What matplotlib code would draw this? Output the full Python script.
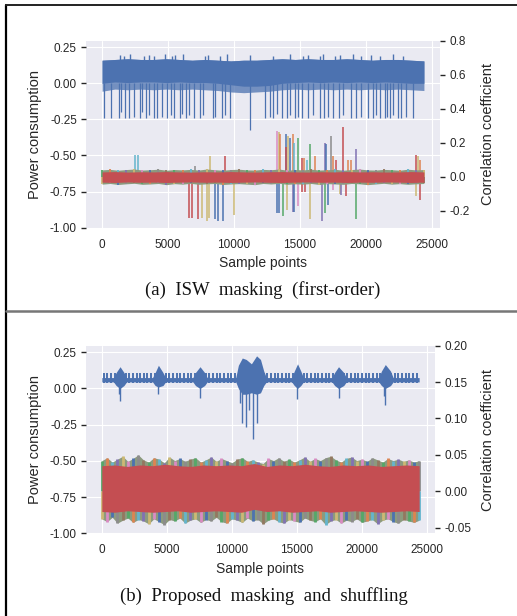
import numpy as np
import matplotlib
matplotlib.use('Agg')
import matplotlib.pyplot as plt
from matplotlib.lines import Line2D

plt.style.use('seaborn-v0_8-darkgrid')
plt.rcParams['font.family'] = ['Liberation Sans', 'DejaVu Sans']

deep = ['#4C72B0', '#DD8452', '#55A868', '#C44E52', '#8172B3',
        '#937860', '#DA8BC3', '#8C8C8C', '#CCB974', '#64B5CD']
fringe_cols = [deep[i] for i in (2, 1, 9, 4, 8, 6, 0, 7, 5)]

trace_len = 24400

# ---------- (a) ISW masking (first-order) ----------
# power trace band (left axis), read on an even grid over the trace
a_band_hi = [0.16, 0.165, 0.17, 0.165, 0.165, 0.17, 0.165, 0.16, 0.165, 0.16, 0.155, 0.16, 0.16,
             0.165, 0.17, 0.165, 0.17, 0.165, 0.165, 0.17, 0.165, 0.16, 0.165, 0.165, 0.16, 0.155]
a_band_lo = [0.0, 0.01, 0.005, 0.01, 0.01, 0.005, 0.01, 0.005, 0.005, 0.0, -0.01, -0.02, -0.02,
             -0.015, 0.0, 0.005, 0.01, 0.005, 0.01, 0.005, 0.01, 0.005, 0.01, 0.005, 0.0, 0.0]
a_band_fuzz = [-0.055, -0.04, -0.045, -0.04, -0.045, -0.04, -0.045, -0.04, -0.045, -0.05, -0.06, -0.065, -0.06,
               -0.055, -0.045, -0.04, -0.045, -0.04, -0.045, -0.04, -0.045, -0.04, -0.045, -0.04, -0.045, -0.05]
a_peak_x = [1384, 1634, 2087, 3146, 3524, 3902, 4787, 5293, 5543, 6171, 7812, 8061, 8946, 9452, 11214,
            12977, 14239, 15245, 15623, 16508, 16758, 17642, 18020, 19026, 19661, 20417, 21045, 22051, 22807]
a_peak_y = [0.195, 0.19, 0.2, 0.19, 0.195, 0.19, 0.2, 0.19, 0.195, 0.2, 0.19, 0.195, 0.19, 0.2, 0.195,
            0.19, 0.2, 0.19, 0.195, 0.19, 0.2, 0.19, 0.195, 0.2, 0.19, 0.195, 0.19, 0.2, 0.19]
a_spike_x = [176, 706, 1260, 1462, 1764, 2066, 2394, 2848, 3024, 3326,
             3528, 3906, 4158, 4536, 4914, 5216, 5418, 5872, 6048, 6376,
             6602, 6980, 7434, 7636, 8392, 8568, 9072, 9324, 9702, 11214,
             12348, 12726, 12978, 13230, 13608, 13986, 14238, 14616, 14868, 15120,
             15624, 16002, 16506, 16808, 17136, 17514, 17968, 18270, 18900, 19278,
             19656, 20160, 20538, 20790, 21042, 21420, 21596, 21848, 22050, 22428,
             22680, 23008, 23562]
a_spike_y = [-0.24, -0.24, -0.24, -0.20, -0.24, -0.24, -0.23, -0.24, -0.20, -0.24,
             -0.22, -0.24, -0.24, -0.23, -0.24, -0.22, -0.24, -0.24, -0.21, -0.24,
             -0.22, -0.24, -0.24, -0.22, -0.24, -0.23, -0.24, -0.22, -0.24, -0.32,
             -0.24, -0.23, -0.24, -0.21, -0.24, -0.24, -0.22, -0.24, -0.23, -0.24,
             -0.24, -0.22, -0.24, -0.24, -0.23, -0.24, -0.24, -0.22, -0.24, -0.24,
             -0.23, -0.24, -0.24, -0.22, -0.24, -0.24, -0.23, -0.24, -0.22, -0.24,
             -0.24, -0.23, -0.24]

# correlation traces (right axis)
a_corr_hi = [0.028, 0.03, 0.027, 0.029, 0.028, 0.03, 0.028, 0.027, 0.029, 0.028, 0.03, 0.028, 0.027,
             0.029, 0.03, 0.028, 0.027, 0.029, 0.028, 0.03, 0.028, 0.029, 0.027, 0.028, 0.03, 0.028]
a_corr_lo = [-0.032, -0.034, -0.031, -0.033, -0.032, -0.034, -0.032, -0.031, -0.033, -0.032, -0.034, -0.032, -0.031,
             -0.033, -0.034, -0.032, -0.031, -0.033, -0.032, -0.034, -0.032, -0.033, -0.031, -0.032, -0.034, -0.032]
a_fringe_hi = [0.040, 0.043, 0.038, 0.042, 0.045, 0.039, 0.041, 0.044, 0.038, 0.042,
               0.040, 0.043, 0.039, 0.045, 0.041, 0.038, 0.042, 0.044, 0.040, 0.039,
               0.043, 0.041, 0.045, 0.038, 0.042, 0.040, 0.044, 0.039, 0.041, 0.043,
               0.038, 0.042, 0.045, 0.040, 0.039, 0.043, 0.041, 0.038, 0.044, 0.040, 0.042]
a_fringe_lo = [-0.044, -0.040, -0.046, -0.042, -0.039, -0.045, -0.043, -0.040, -0.047, -0.041,
               -0.044, -0.039, -0.045, -0.042, -0.040, -0.046, -0.043, -0.041, -0.044, -0.047,
               -0.040, -0.043, -0.039, -0.045, -0.042, -0.044, -0.040, -0.046, -0.041, -0.043,
               -0.045, -0.040, -0.042, -0.047, -0.043, -0.039, -0.044, -0.041, -0.045, -0.042, -0.040]
a_up_x = [2520, 2696, 7056, 8190, 9349, 13280, 13381, 13482, 13936, 14112, 13910, 14440, 14540, 14238,
          14818, 15120, 15296, 15500, 15750, 16128, 16884, 17010, 17338, 17514, 17766, 18270, 18648,
          18900, 19278, 23814, 23940, 24116]
a_up_y = [0.13, 0.13, 0.06, 0.12, 0.12, 0.27, 0.26, 0.25, 0.25, 0.24, 0.175, 0.25, 0.20, 0.23,
          0.23, 0.11, 0.11, 0.10, 0.19, 0.12, 0.20, 0.195, 0.24, 0.12, 0.10, 0.29, 0.10,
          0.10, 0.16, 0.125, 0.12, 0.10]
a_up_series = [9, 9, 7, 8, 3, 6, 8, 1, 0, 8, 3, 1, 9, 0,
               2, 3, 1, 9, 2, 1, 4, 0, 7, 1, 3, 3, 1,
               1, 4, 3, 8, 1]
a_dn_x = [6602, 6804, 7258, 7560, 7938, 8140, 8568, 8820, 9148, 10030, 13230, 13432, 13734, 14036,
          14440, 14540, 14868, 15120, 15372, 15800, 16708, 16884, 17136, 17514, 18018, 18144, 18522,
          19228, 23814, 24116]
a_dn_y = [-0.245, -0.245, -0.25, -0.245, -0.26, -0.245, -0.25, -0.26, -0.26, -0.225, -0.215, -0.215, -0.23, -0.195,
          -0.205, -0.205, -0.175, -0.09, -0.09, -0.25, -0.26, -0.215, -0.165, -0.08, -0.10, -0.105, -0.115,
          -0.25, -0.115, -0.135]
a_dn_series = [3, 3, 3, 8, 8, 8, 0, 0, 0, 8, 0, 0, 2, 8,
               4, 0, 6, 3, 3, 8, 4, 2, 0, 6, 8, 4, 3,
               2, 8, 3]

# ---------- (b) Proposed masking and shuffling ----------
b_env_x = [0, 900, 1100, 1400, 1700, 1900, 3900, 4100, 4350, 4700, 4900, 7000, 7200, 7550, 7900, 8100,
           10300, 10500, 10800, 11100, 11500, 11900, 12200, 12450, 12650, 14600, 14800, 15050, 15300, 15500,
           17700, 17900, 18200, 18600, 18800, 21300, 21500, 21800, 22200, 22400, 24400]
b_env_hi = [0.075, 0.075, 0.11, 0.15, 0.11, 0.075, 0.075, 0.11, 0.16, 0.11, 0.075, 0.075, 0.11, 0.15, 0.11, 0.075,
            0.075, 0.16, 0.21, 0.2, 0.17, 0.225, 0.2, 0.12, 0.075, 0.075, 0.12, 0.17, 0.12, 0.075,
            0.075, 0.11, 0.15, 0.11, 0.075, 0.075, 0.12, 0.165, 0.12, 0.075, 0.075]
b_env_lo = [0.045, 0.045, 0.02, 0.0, 0.02, 0.045, 0.045, 0.02, 0.01, 0.02, 0.045, 0.045, 0.02, 0.0, 0.02, 0.045,
            0.045, 0.0, -0.04, -0.04, -0.03, -0.04, -0.03, 0.02, 0.045, 0.045, 0.02, 0.0, 0.02, 0.045,
            0.045, 0.02, 0.0, 0.02, 0.045, 0.045, 0.02, 0.0, 0.02, 0.045, 0.045]
b_teeth_x = [150, 430, 710, 990, 1270, 1550, 1830, 2110, 2390, 2670, 2950, 3230, 3510, 3790, 4070, 4350,
             4630, 4910, 5190, 5470, 5750, 6030, 6310, 6590, 6870, 7150, 7430, 7710, 7990, 8270, 8550,
             8830, 9110, 9390, 9670, 9950, 10230, 12450, 12730, 13010, 13290, 13570, 13850, 14130, 14410,
             14690, 14970, 15250, 15530, 15810, 16090, 16370, 16650, 16930, 17210, 17490, 17770, 18050,
             18330, 18610, 18890, 19170, 19450, 19730, 20010, 20290, 20570, 20850, 21130, 21410, 21690,
             21970, 22250, 22530, 22810, 23090, 23370, 23650, 23930, 24210]
b_tooth_top = 0.105
b_tooth_bottom = 0.035
b_spike_x = [1300, 1408, 4354, 7562, 10600, 10800, 11108, 11300, 11620, 11930, 15046, 18200, 21700, 21792]
b_spike_y = [-0.04, -0.085, -0.04, -0.065, -0.10, -0.24, -0.265, -0.15, -0.35, -0.24, -0.07, -0.065, -0.05, -0.115]

b_corr_hi = [0.035, 0.036, 0.034, 0.036, 0.035, 0.037, 0.035, 0.034, 0.036, 0.035, 0.036, 0.035, 0.038,
             0.034, 0.036, 0.035, 0.037, 0.035, 0.034, 0.036, 0.035, 0.036, 0.034, 0.035, 0.036, 0.035]
b_corr_lo = [-0.028, -0.029, -0.027, -0.028, -0.029, -0.028, -0.027, -0.029, -0.028, -0.027, -0.028, -0.029, -0.025,
             -0.028, -0.027, -0.029, -0.028, -0.027, -0.029, -0.028, -0.027, -0.028, -0.029, -0.028, -0.027, -0.028]
b_fringe_hi = [0.042, 0.046, 0.040, 0.044, 0.048, 0.041, 0.045, 0.050, 0.043, 0.040,
               0.046, 0.044, 0.039, 0.047, 0.042, 0.045, 0.041, 0.044, 0.046, 0.040,
               0.043, 0.047, 0.041, 0.045, 0.042, 0.039, 0.044, 0.046, 0.041, 0.043,
               0.040, 0.038, 0.045, 0.042, 0.046, 0.041, 0.044, 0.040, 0.043, 0.047,
               0.041, 0.045, 0.042, 0.046, 0.048, 0.043, 0.040, 0.045, 0.047, 0.042,
               0.044, 0.041, 0.046, 0.043, 0.040, 0.045, 0.042, 0.044, 0.041, 0.043, 0.040, 0.042]
b_fringe_lo = [-0.038, -0.042, -0.036, -0.044, -0.040, -0.037, -0.043, -0.039, -0.041, -0.045,
               -0.038, -0.042, -0.046, -0.039, -0.041, -0.037, -0.044, -0.040, -0.038, -0.043,
               -0.039, -0.041, -0.036, -0.042, -0.044, -0.038, -0.040, -0.043, -0.037, -0.041,
               -0.039, -0.045, -0.040, -0.038, -0.042, -0.044, -0.039, -0.041, -0.043, -0.037,
               -0.040, -0.042, -0.038, -0.046, -0.041, -0.039, -0.044, -0.040, -0.042, -0.038,
               -0.043, -0.041, -0.039, -0.045, -0.040, -0.038, -0.042, -0.044, -0.039, -0.041, -0.043, -0.040]

x_ticks = [0, 5000, 10000, 15000, 20000, 25000]
left_ticks = [-1.0, -0.75, -0.5, -0.25, 0.0, 0.25]
a_right_ticks = [-0.2, 0.0, 0.2, 0.4, 0.6, 0.8]
b_right_ticks = [-0.05, 0.0, 0.05, 0.10, 0.15, 0.20]

text_col = '#262626'


def grid_x(values):
    return np.linspace(0, trace_len, len(values))


def setup_axes(ax, ax2, right_ticks, right_fmt, right_lim, width_px):
    ax.set_xlim(-1220, 25620)
    ax.set_ylim(-0.99, 0.295)
    ax.set_xticks(x_ticks)
    ax.set_yticks(left_ticks)
    ax.set_yticklabels(['%.2f' % v for v in left_ticks])
    ax.tick_params(axis='x', length=0, pad=8, labelsize=8.5, labelcolor=text_col)
    ax.tick_params(axis='y', left=True, length=3.5, width=1, color=text_col, pad=3,
                   labelsize=8.5, labelcolor=text_col)
    ax.set_xlabel('Sample points', fontsize=10, color=text_col)
    ax.set_ylabel('Power consumption', fontsize=10.5, color=text_col)
    ax.yaxis.set_label_coords(-44 / width_px, 0.5)
    ax2.set_ylim(*right_lim)
    ax2.set_yticks(right_ticks)
    ax2.set_yticklabels([right_fmt % v for v in right_ticks])
    ax2.grid(False)
    ax2.tick_params(axis='y', right=True, length=3.5, width=1, color=text_col, pad=3,
                    labelsize=8.5, labelcolor=text_col)
    ax2.set_ylabel('Correlation coefficient', fontsize=10.5, color=text_col)
    ax2.yaxis.set_label_coords(395 / width_px, 0.5)
    for s in ax2.spines.values():
        s.set_visible(False)


def draw_fringe(ax2, f_hi, f_lo, lw):
    fx_hi = grid_x(f_hi)
    fx_lo = grid_x(f_lo)
    ax2.fill_between(fx_hi, 0, f_hi, color='#8c9a7e', lw=0, zorder=2)
    ax2.fill_between(fx_lo, f_lo, 0, color='#8c9a7e', lw=0, zorder=2)
    ax2.vlines(fx_hi, 0, f_hi, colors=[fringe_cols[i % 9] for i in range(len(fx_hi))], lw=lw, zorder=2.1)
    ax2.vlines(fx_lo, f_lo, 0, colors=[fringe_cols[(i + 4) % 9] for i in range(len(fx_lo))], lw=lw, zorder=2.1)


fig = plt.figure(figsize=(5.17, 6.16), dpi=100)

# panel (a)
ax = fig.add_axes([0.1663, 0.6304, 0.6848, 0.3035])
ax2 = ax.twinx()
bx = grid_x(a_band_hi)
ax.fill_between(bx, a_band_fuzz, a_band_hi, color=deep[0], alpha=0.75, lw=0)
ax.fill_between(bx, a_band_lo, a_band_hi, color=deep[0], lw=0)
ax.vlines(a_peak_x, 0.1, a_peak_y, color=deep[0], lw=1.0)
ax.vlines(a_spike_x, 0.0, a_spike_y, color=deep[0], lw=0.9)

ax2.vlines(a_up_x, 0, a_up_y, colors=[deep[i] for i in a_up_series], lw=1.1, zorder=1.5)
ax2.vlines(a_dn_x, a_dn_y, 0, colors=[deep[i] for i in a_dn_series], lw=1.1, zorder=1.5)
draw_fringe(ax2, a_fringe_hi, a_fringe_lo, 1.3)
cx = grid_x(a_corr_hi)
ax2.fill_between(cx, a_corr_lo, a_corr_hi, color=deep[3], lw=0, zorder=3)
setup_axes(ax, ax2, a_right_ticks, '%.1f', (-0.3, 0.8), 354.0)

# panel (b)
ax = fig.add_axes([0.1663, 0.1342, 0.6751, 0.3046])
ax2 = ax.twinx()
ax.vlines(b_teeth_x, b_tooth_bottom, b_tooth_top, color=deep[0], lw=1.4)
ax.fill_between(b_env_x, b_env_lo, b_env_hi, color=deep[0], lw=0)
ax.vlines(b_spike_x, 0.04, b_spike_y, color=deep[0], lw=1.0)

draw_fringe(ax2, b_fringe_hi, b_fringe_lo, 2.0)
cx = grid_x(b_corr_hi)
ax2.fill_between(cx, b_corr_lo, b_corr_hi, color=deep[3], lw=0, zorder=3)
setup_axes(ax, ax2, b_right_ticks, '%.2f', (-0.058, 0.2), 349.0)

# captions
fig.text(263 / 517, 1 - 290 / 616, '(a)  ISW  masking  (first-order)', ha='center', va='center',
         fontsize=13.5, family='Liberation Serif', color='#111111')
fig.text(263.5 / 517, 1 - 595.7 / 616, '(b)  Proposed  masking  and  shuffling', ha='center', va='center',
         fontsize=13.5, family='Liberation Serif', color='#111111')

# frame lines around the panels
fig.add_artist(Line2D([6 / 517, 6 / 517], [0, 1 - 5 / 616], color='black', lw=1.6, transform=fig.transFigure))
fig.add_artist(Line2D([6 / 517, 1], [1 - 5 / 616, 1 - 5 / 616], color='#222222', lw=1.4, transform=fig.transFigure))
fig.add_artist(Line2D([6 / 517, 1], [1 - 310.7 / 616, 1 - 310.7 / 616], color='#777777', lw=1.8,
                      transform=fig.transFigure))

fig.savefig('out.png', dpi=100, facecolor='white')
